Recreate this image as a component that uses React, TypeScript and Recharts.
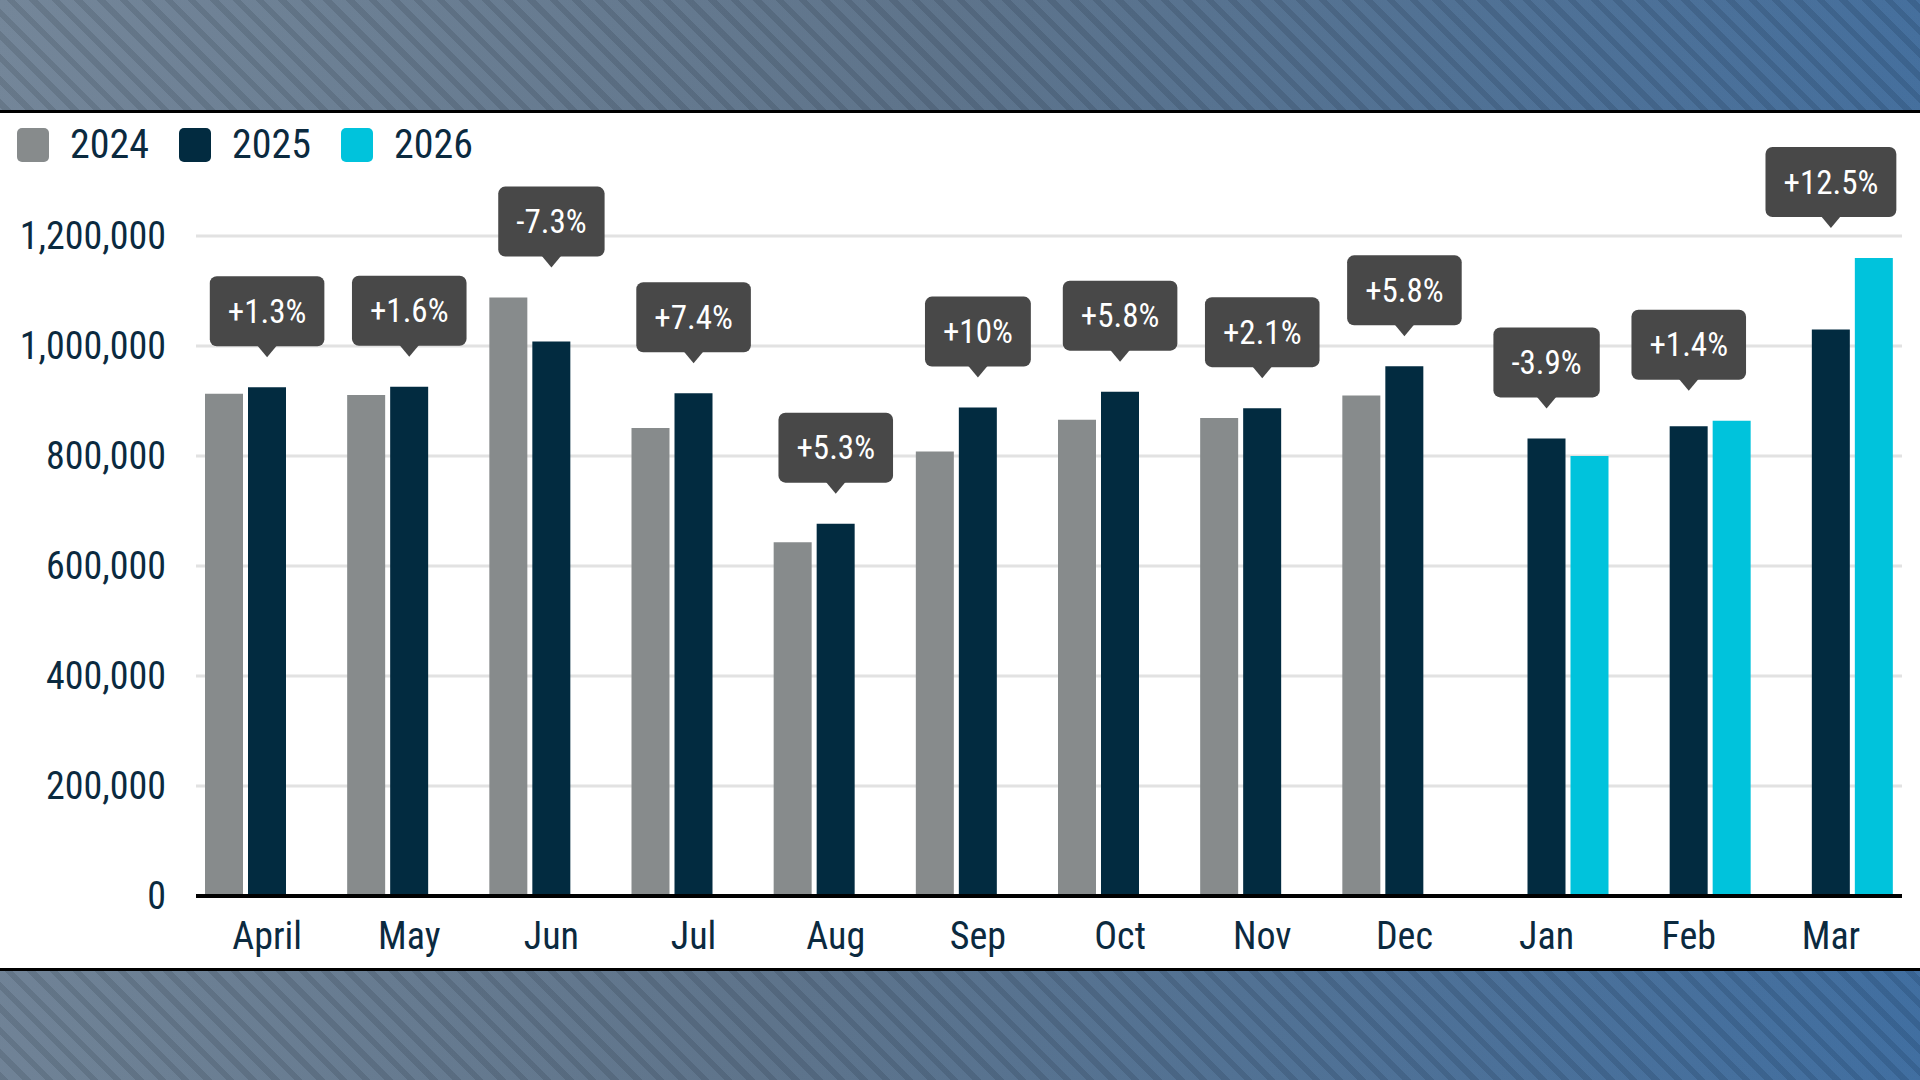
import React, { useLayoutEffect, useRef, useState } from 'react';
import { ComposedChart, Bar, Line, XAxis, YAxis, CartesianGrid } from 'recharts';

const months = ['April', 'May', 'Jun', 'Jul', 'Aug', 'Sep', 'Oct', 'Nov', 'Dec', 'Jan', 'Feb', 'Mar'];
const sales2024 = [913000, 911000, 1088000, 851000, 643000, 808000, 866000, 869000, 910000, null, null, null];
const sales2025 = [925000, 926000, 1008000, 914000, 677000, 888000, 917000, 887000, 963000, 832000, 854000, 1030000];
const sales2026 = [null, null, null, null, null, null, null, null, null, 800000, 864000, 1160000];
const changeLabels = ['+1.3%', '+1.6%', '-7.3%', '+7.4%', '+5.3%', '+10%', '+5.8%', '+2.1%', '+5.8%', '-3.9%', '+1.4%', '+12.5%'];
const yTicks = [0, 200000, 400000, 600000, 800000, 1000000, 1200000];

const seriesNames = ['2024', '2025', '2026'];
const seriesColors = ['#878b8c', '#022b40', '#00c3dc'];

const FONT = '"Liberation Sans Narrow", "Roboto Condensed", "DejaVu Sans Condensed", Roboto, sans-serif';
const TEXT = '#0b2a3f';

const data = months.map((month, i) => {
  const vals = [sales2024[i], sales2025[i], sales2026[i]].filter((v) => v != null) as number[];
  return {
    month,
    y2024: sales2024[i],
    y2025: sales2025[i],
    y2026: sales2026[i],
    peak: Math.max(...vals),
    change: changeLabels[i],
  };
});

// diagonal stripes over a grey-to-blue gradient, like the frame bands
const stripes =
  'repeating-linear-gradient(45deg, rgba(0,0,0,0.09) 0px, rgba(0,0,0,0.09) 6px, rgba(255,255,255,0.02) 6px, rgba(255,255,255,0.02) 16px), linear-gradient(100deg, #718497 0%, #5b7189 45%, #3d6c9f 100%)';

function Callout({ x, y, text }: { x: number; y: number; text: string }) {
  const ref = useRef<SVGTextElement>(null);
  const [w, setW] = useState(80);
  useLayoutEffect(() => {
    if (ref.current) setW(ref.current.getComputedTextLength());
  }, [text]);
  const boxW = w + 36;
  const boxH = 70;
  const tipY = y - 30;
  const bottom = tipY - 11;
  const top = bottom - boxH;
  return (
    <g>
      <rect x={x - boxW / 2} y={top} width={boxW} height={boxH} rx={7} fill="#484848" />
      <path d={`M${x - 10},${bottom - 1} L${x},${tipY} L${x + 10},${bottom - 1} Z`} fill="#484848" />
      <text
        ref={ref}
        x={x}
        y={top + boxH / 2}
        textAnchor="middle"
        dominantBaseline="central"
        fill="#ffffff"
        fontSize={33}
        fontFamily={FONT}
      >
        {text}
      </text>
    </g>
  );
}

const renderCallout = (props: any) => {
  const { x, y, index } = props;
  if (x == null || y == null) return null;
  return <Callout key={index} x={x} y={y} text={changeLabels[index]} />;
};

const Legend = () => (
  <div style={{ position: 'absolute', left: 17, top: 12, display: 'flex', alignItems: 'center', fontFamily: FONT }}>
    {seriesNames.map((name, i) => (
      <div key={name} style={{ display: 'flex', alignItems: 'center', marginRight: 30 }}>
        <div style={{ width: 32, height: 34, borderRadius: 5, background: seriesColors[i], marginRight: 21 }} />
        <span style={{ fontSize: 40, color: TEXT, lineHeight: '40px' }}>{name}</span>
      </div>
    ))}
  </div>
);

export default function App() {
  return (
    <div style={{ position: 'fixed', left: 0, top: 0, width: 1920, height: 1080, background: stripes, overflow: 'hidden' }}>
      <div style={{ position: 'absolute', left: 0, top: 110, width: 1920, height: 3, background: '#000' }} />
      <div style={{ position: 'absolute', left: 0, top: 968, width: 1920, height: 3, background: '#000' }} />
      <div style={{ position: 'absolute', left: 0, top: 113, width: 1920, height: 855, background: '#fff' }}>
        <Legend />
        <ComposedChart
          width={1920}
          height={855}
          data={data}
          margin={{ top: 123, right: 18, bottom: 0, left: 0 }}
          barSize={38}
          barGap={5}
        >
          <CartesianGrid vertical={false} stroke="#e2e2e2" strokeWidth={3} />
          <XAxis
            dataKey="month"
            height={72}
            tickSize={0}
            tickMargin={26}
            axisLine={{ stroke: '#000', strokeWidth: 4 }}
            tick={{ fill: TEXT, fontSize: 38, fontFamily: FONT }}
            interval={0}
          />
          <YAxis
            width={196}
            domain={[0, 1200000]}
            ticks={yTicks}
            axisLine={false}
            tickLine={false}
            tickSize={0}
            tickMargin={30}
            tick={{ fill: TEXT, fontSize: 38, fontFamily: FONT }}
            tickFormatter={(v: number) => v.toLocaleString('en-US')}
          />
          <Bar dataKey="y2024" name="2024" fill={seriesColors[0]} isAnimationActive={false} />
          <Bar dataKey="y2025" name="2025" fill={seriesColors[1]} isAnimationActive={false} />
          <Bar dataKey="y2026" name="2026" fill={seriesColors[2]} isAnimationActive={false} />
          <Line
            dataKey="peak"
            stroke="none"
            dot={false}
            activeDot={false}
            legendType="none"
            isAnimationActive={false}
            label={renderCallout}
          />
        </ComposedChart>
      </div>
    </div>
  );
}
